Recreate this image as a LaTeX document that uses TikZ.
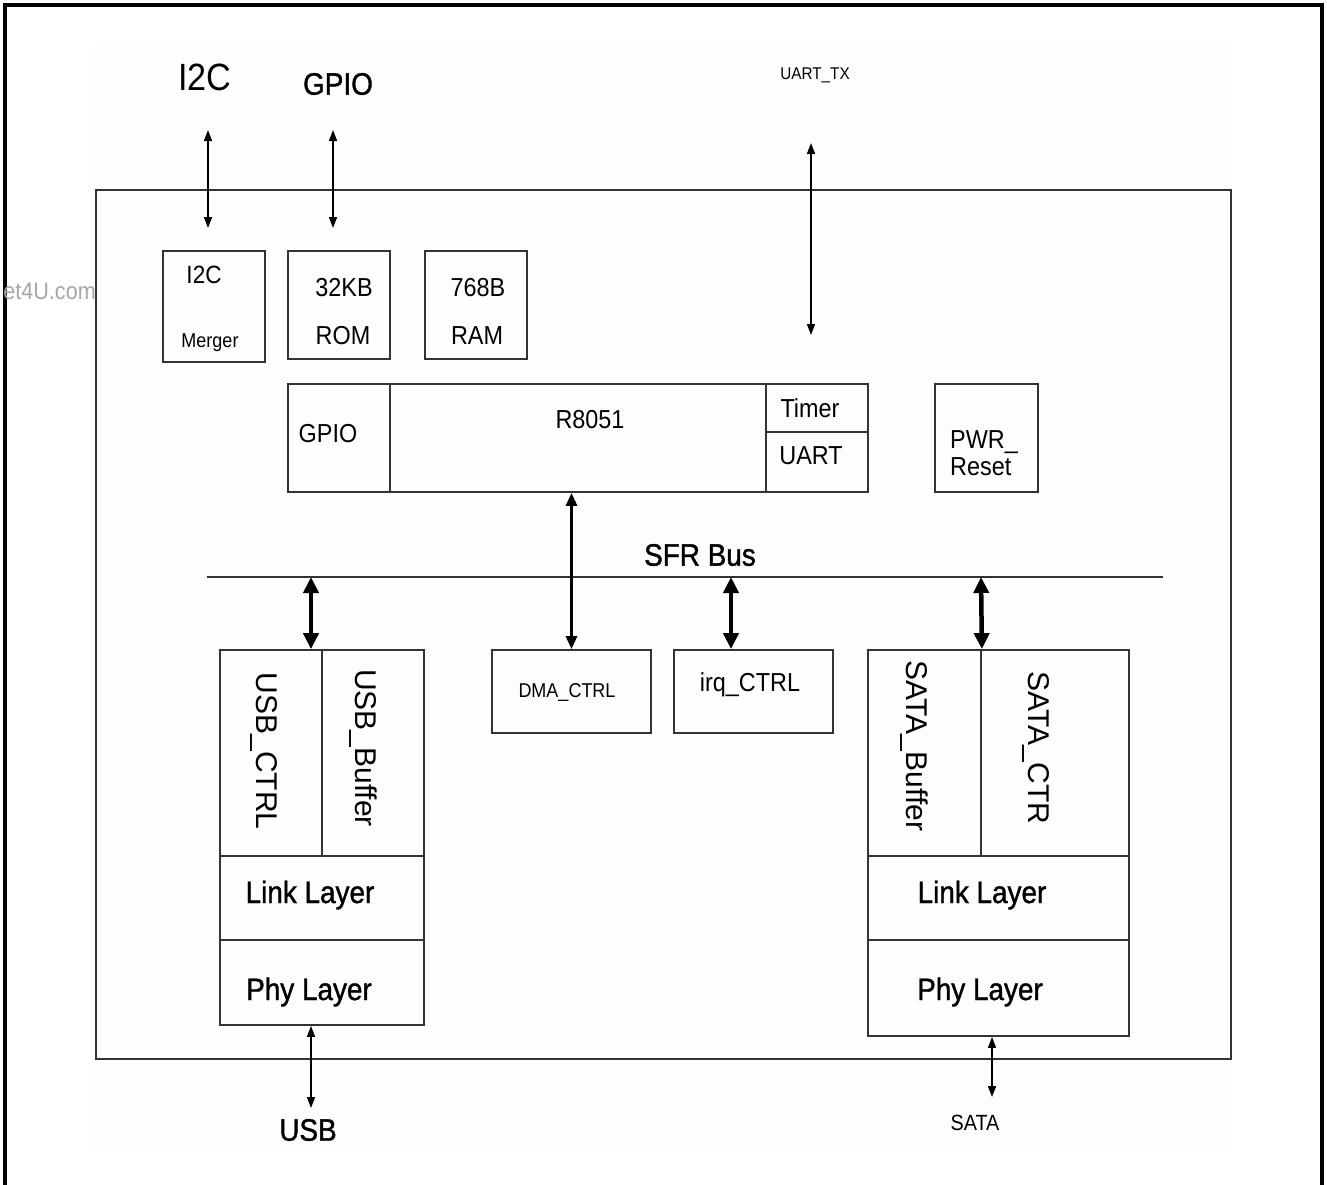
\documentclass[tikz,border=0pt]{standalone}
\usepackage{fontspec}
\setmainfont{Liberation Sans}[FakeStretch=0.9]
\newfontfamily\uprfont{Liberation Sans}
\newfontfamily\medfont{Liberation Sans}[FakeStretch=0.9,FakeBold=1.2]
\usetikzlibrary{arrows.meta}
\newcommand{\setsz}[1]{\fontsize{#1}{#1}\selectfont}
\tikzset{
  blk/.style={draw=black!80, line width=1.8pt, inner sep=0pt},
  txt/.style={inner sep=0pt, font=\setsz{26}},
  vtxt/.style={inner sep=0pt, rotate=-90, font=\uprfont\setsz{30}},
  big/.style={inner sep=0pt, font=\medfont\setsz{31}},
  io/.style={line width=1.6pt, {Triangle[length=11pt,width=8pt]}-{Triangle[length=11pt,width=8pt]}},
  sfr/.style={line width=4.5pt, {Triangle[length=16pt,width=15pt]}-{Triangle[length=16pt,width=15pt]}},
  core/.style={line width=3pt, {Triangle[length=13pt,width=11pt]}-{Triangle[length=13pt,width=11pt]}}
}
\begin{document}
\begin{tikzpicture}[x=1pt,y=-1pt]
  \useasboundingbox (0,0) rectangle (1327,1184);
  % page frame and backdrop
  \fill[black!0.8] (95,45) rectangle (1232,1153);
  \draw[line width=4pt] (5,1190) |- (1322,5) -- (1322,1190);
  \node[anchor=east, inner sep=0pt, text=black!35, font=\setsz{24}] (wmark) at (96,291) {et4U.com};
  % chip outline
  \draw[draw=black!80, line width=1.6pt] (96,190) rectangle (1231,1059);

  % pins on top
  \node[inner sep=0pt, font=\setsz{38}] (i2cpin) at (205,77) {I2C};
  \node[big] (gpiopin) at (338,84) {GPIO};
  \node[inner sep=0pt, font=\setsz{17}] (txpin) at (815,75) {UART\_TX};
  \coordinate (i2cA) at (208,130);  \coordinate (i2cB) at (208,228);
  \coordinate (gpioA) at (333,130); \coordinate (gpioB) at (333,228);
  \coordinate (txA) at (811,143);   \coordinate (txB) at (811,335);
  \draw[io] (i2cA) -- (i2cB);
  \draw[io] (gpioA) -- (gpioB);
  \draw[io] (txA) -- (txB);

  % memories
  \node[blk, minimum width=102, minimum height=111] (merger) at (214,306.5) {};
  \node[blk, minimum width=102, minimum height=108] (rom) at (339,305) {};
  \node[blk, minimum width=102, minimum height=108] (ram) at (476,305) {};
  \node[txt, font=\setsz{25}] (mergerA) at (204,275) {I2C};
  \node[txt, font=\setsz{20}] (mergerB) at (210,343) {Merger};
  \node[txt] (romA) at (344,288) {32KB};
  \node[txt] (romB) at (343,336) {ROM};
  \node[txt] (ramA) at (478,288) {768B};
  \node[txt] (ramB) at (477,336) {RAM};

  % core row
  \node[blk, minimum width=102, minimum height=108] (gpio) at (339,438) {};
  \node[blk, minimum width=376, minimum height=108] (cpu) at (578,438) {};
  \node[blk, minimum width=102, minimum height=48] (timer) at (817,408) {};
  \node[blk, minimum width=102, minimum height=60] (uart) at (817,462) {};
  \node[blk, minimum width=103, minimum height=108] (pwr) at (986.5,438) {};
  \node[txt] (gpioT) at (328,434) {GPIO};
  \node[txt] (cpuT) at (590,420) {R8051};
  \node[txt] (timerT) at (810,408) {Timer};
  \node[txt] (uartT) at (811,456) {UART};
  \node[txt, align=left, font=\setsz{26}\linespread{1.04}\selectfont] (pwrT) at (984,453) {PWR\_\\Reset};

  % SFR bus
  \coordinate (busL) at (207,577);
  \coordinate (busR) at (1163,577);
  \draw[draw=black!80, line width=1.6pt] (busL) -- (busR);
  \node[big] (sfr) at (700,555) {SFR Bus};
  \coordinate (busU) at (311,577);
  \coordinate (busI) at (731,577);
  \coordinate (busS) at (981,577);

  % peripherals
  \node[blk, minimum width=159, minimum height=83] (dma) at (571.5,691.5) {};
  \node[blk, minimum width=159, minimum height=83] (irq) at (753.5,691.5) {};
  \node[txt, font=\setsz{20}] (dmaT) at (567,692) {DMA\_CTRL};
  \node[txt] (irqT) at (750,685) {irq\_CTRL};

  % USB stack
  \node[blk, minimum width=102, minimum height=206] (usbctrl) at (271,753) {};
  \node[blk, minimum width=102, minimum height=206] (usbbuf) at (373,753) {};
  \node[blk, minimum width=204, minimum height=84] (usblink) at (322,898) {};
  \node[blk, minimum width=204, minimum height=85] (usbphy) at (322,982.5) {};
  \node[vtxt] (usbctrlT) at (264,751) {USB\_CTRL};
  \node[vtxt] (usbbufT) at (363,748) {USB\_Buffer};
  \node[big] (usblinkT) at (310,895) {Link Layer};
  \node[big] (usbphyT) at (309,992) {Phy Layer};

  % SATA stack
  \node[blk, minimum width=113, minimum height=206] (sbuf) at (924.5,753) {};
  \node[blk, minimum width=148, minimum height=206] (sctr) at (1055,753) {};
  \node[blk, minimum width=261, minimum height=84] (slink) at (998.5,898) {};
  \node[blk, minimum width=261, minimum height=96] (sphy) at (998.5,988) {};
  \node[vtxt] (sbufT) at (914,746) {SATA\_Buffer};
  \node[vtxt] (sctrT) at (1036,748) {SATA\_CTR};
  \node[big] (slinkT) at (982,895) {Link Layer};
  \node[big] (sphyT) at (980,992) {Phy Layer};

  % bus links
  \draw[core] (dma.north |- cpu.south) -- (dma.north);
  \draw[sfr] (busU) -- (busU |- usbctrl.north);
  \draw[sfr] (busI) -- (busI |- irq.north);
  \draw[sfr] (busS) -- (sbuf.north east);

  % pins at the bottom
  \node[big] (usbpin) at (308,1130) {USB};
  \node[inner sep=0pt, font=\setsz{22}] (satapin) at (975,1123) {SATA};
  \coordinate (usbB) at (311,1108);
  \coordinate (sataB) at (992,1097);
  \draw[io] (usbB |- usbphy.south) -- (usbB);
  \draw[io] (sataB |- sphy.south) -- (sataB);
\end{tikzpicture}
\end{document}
